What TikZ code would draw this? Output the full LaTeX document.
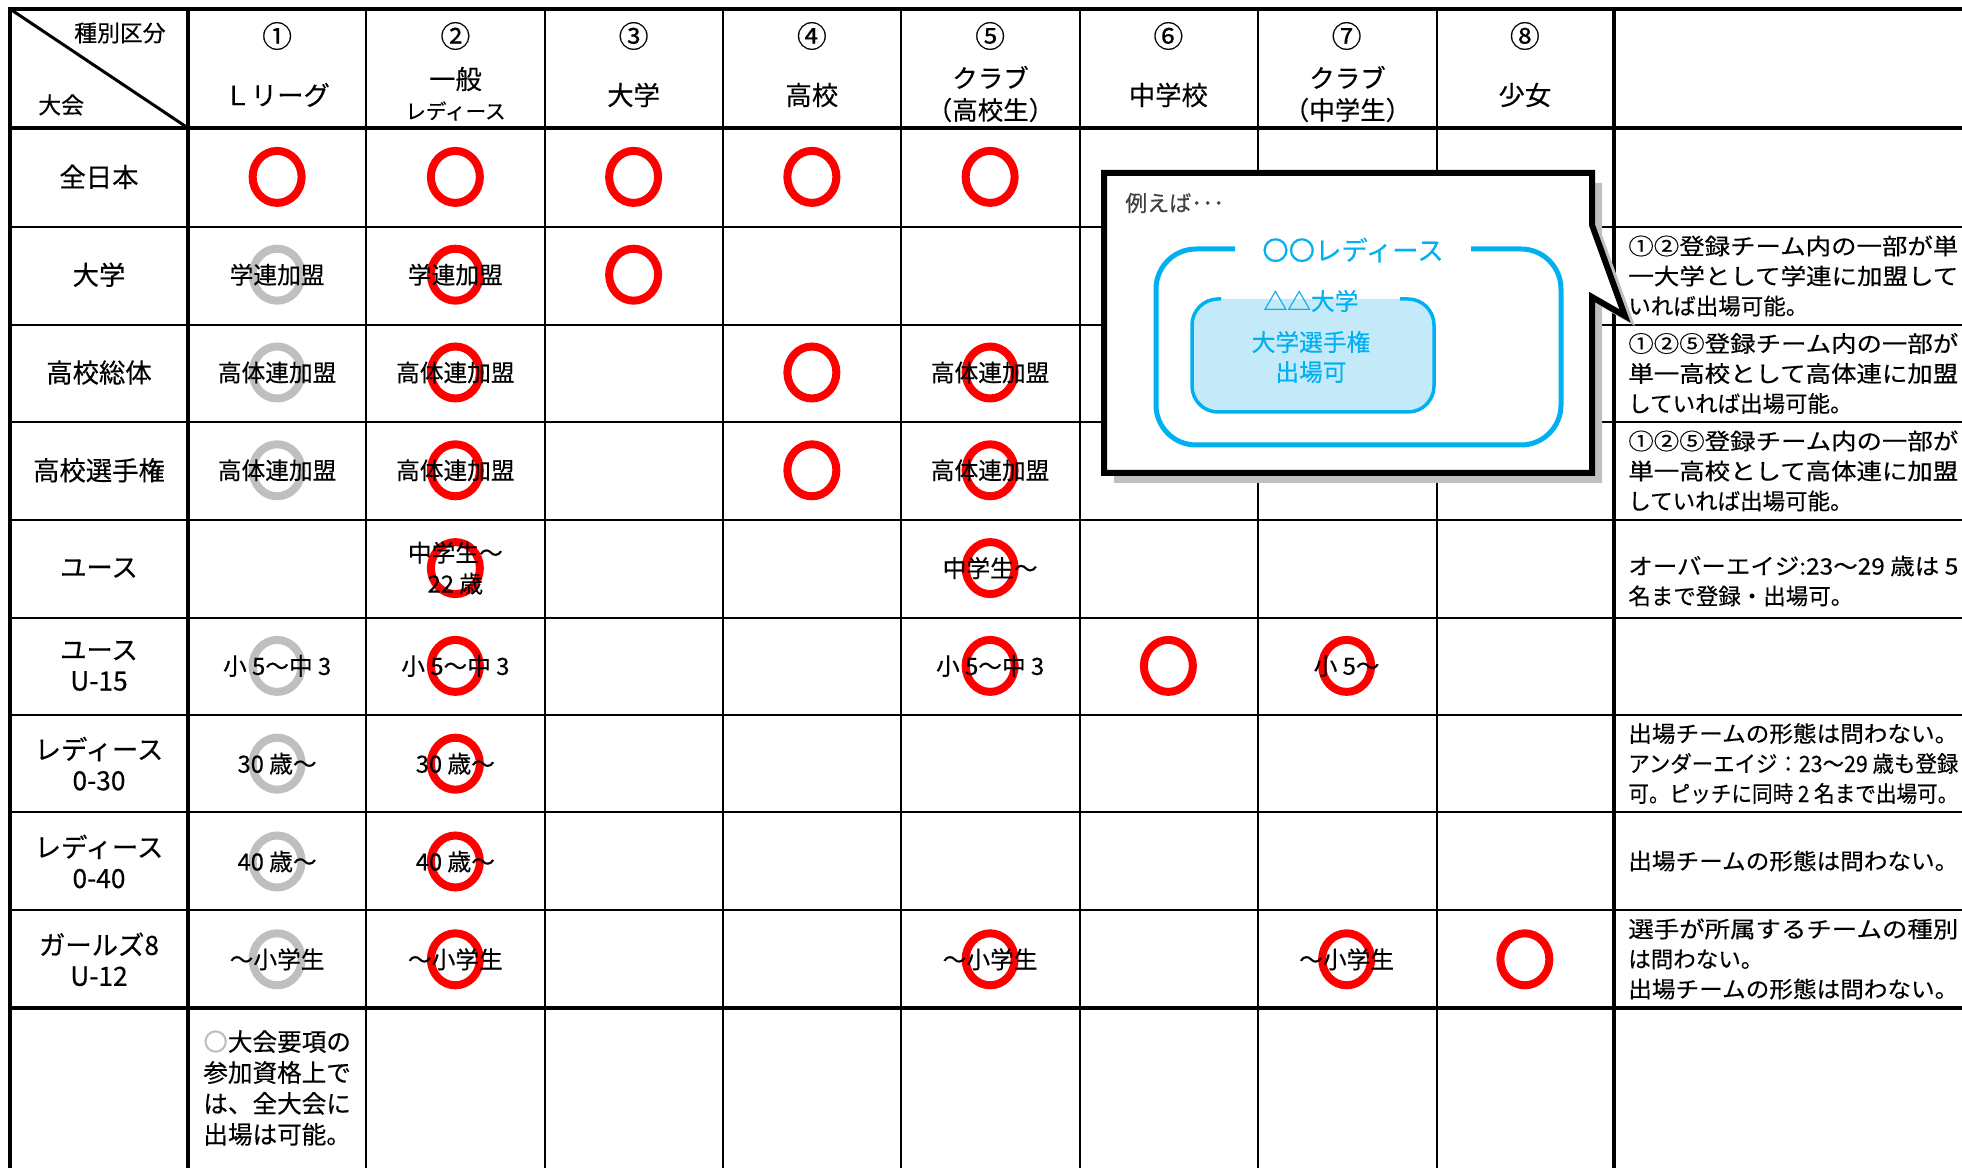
\documentclass[tikz,border=0pt]{standalone}
\usepackage{fontspec}
\setmainfont{Noto Sans CJK JP}[FakeBold=0.35]
\usepackage{graphicx}
\usetikzlibrary{shapes.geometric}

\definecolor{ringred}{HTML}{FF0000}
\definecolor{ringgray}{HTML}{BFBFBF}
\definecolor{frameblue}{HTML}{00B0F0}
\definecolor{paleblue}{HTML}{C4EAF9}
\definecolor{shadowgray}{HTML}{BFBFBF}
\definecolor{hintgray}{HTML}{404040}

\newcommand\fillline[1]{\resizebox{6.6cm}{\height}{#1}}

\tikzset{
  thickrule/.style={line width=0.08cm},
  thinrule/.style={line width=0.05cm},
  redring/.style={ellipse, draw=ringred, line width=0.16cm, minimum width=0.98cm, minimum height=1.04cm, inner sep=0pt},
  grayring/.style={redring, draw=ringgray},
  numhead/.style={font=\fontsize{17}{20}\selectfont, inner sep=0pt},
  head/.style={font=\fontsize{15}{18.2}\selectfont, align=center, inner sep=0pt},
  rowhead/.style={font=\fontsize{15}{17.6}\selectfont, align=center, inner sep=0pt},
  cell/.style={font=\fontsize{13.5}{17.6}\selectfont, align=center, inner sep=0pt},
  note/.style={font=\fontsize{12.8}{17.07}\selectfont, align=left, anchor=west, inner sep=0pt},
  bluetext/.style={text=frameblue, font=\fontsize{13.5}{17}\selectfont, align=center, inner sep=0pt}
}

\begin{document}
\begin{tikzpicture}[x=0.02cm, y=-0.02cm]
\useasboundingbox (0,0) rectangle (1962,1168);

\foreach \x in {366,545,723,901,1080,1258,1437}
  \draw[thinrule] (\x,9) -- (\x,1168);
\foreach \y in {227,325,422,520,618,715,812,910}
  \draw[thinrule] (10,\y) -- (1962,\y);
\foreach \x in {10,188,1614}
  \draw[thickrule] (\x,7) -- (\x,1168);
\foreach \y in {9,128,1008}
  \draw[thickrule] (8,\y) -- (1962,\y);
\draw[line width=0.06cm] (10,9) -- (188,128);

\node[numhead, font=\fontsize{13}{15}\selectfont, anchor=east] (kind) at (166,33) {種別区分};
\node[numhead, font=\fontsize{13}{15}\selectfont, anchor=west] (meet) at (38,105) {大会};

\foreach \c/\num in {1/①,2/②,3/③,4/④,5/⑤,6/⑥,7/⑦,8/⑧}
  \node[numhead] (num-\c) at ({188+178.25*(\c-0.5)},36) {\num};
\foreach \c/\name in {1/Ｌリーグ,3/大学,4/高校,6/中学校,8/少女}
  \node[head] (team-\c) at ({188+178.25*(\c-0.5)},95) {\name};
\node[head] (team-2) at (455.5,79) {一般};
\node[head, font=\fontsize{11.7}{14}\selectfont] (team-2b) at (455.5,111) {レディース};
\node[head, font=\fontsize{14.5}{18.2}\selectfont] (team-5) at (990.5,94) {クラブ\\（高校生）};
\node[head, font=\fontsize{14.5}{18.2}\selectfont] (team-7) at (1347.5,94) {クラブ\\（中学生）};

\foreach \r/\name in {1/全日本,2/大学,3/高校総体,4/高校選手権,5/ユース,6/{ユース\\U-15},7/{レディース\\0-30},8/{レディース\\0-40},9/{ガールズ8\\U-12}}
  \node[rowhead] (meet-\r) at (99,{128+97.8*(\r-0.5)}) {\name};

\foreach \r/\c/\sty in {1/1/redring,1/2/redring,1/3/redring,1/4/redring,1/5/redring,
    2/1/grayring,2/2/redring,2/3/redring,
    3/1/grayring,3/2/redring,3/4/redring,3/5/redring,
    4/1/grayring,4/2/redring,4/4/redring,4/5/redring,
    5/2/redring,5/5/redring,
    6/1/grayring,6/2/redring,6/5/redring,6/6/redring,6/7/redring,
    7/1/grayring,7/2/redring,
    8/1/grayring,8/2/redring,
    9/1/grayring,9/2/redring,9/5/redring,9/7/redring,9/8/redring}
  \node[\sty] (ring-\r-\c) at ({188+178.25*(\c-0.5)},{128+97.8*(\r-0.5)}) {};

\foreach \r/\c/\txt in {2/1/学連加盟,2/2/学連加盟,
    3/1/高体連加盟,3/2/高体連加盟,3/5/高体連加盟,
    4/1/高体連加盟,4/2/高体連加盟,4/5/高体連加盟,
    5/2/{中学生〜\\22 歳},5/5/中学生〜,
    6/1/小 5〜中 3,6/2/小 5〜中 3,6/5/小 5〜中 3,6/7/小 5〜,
    7/1/30 歳〜,7/2/30 歳〜,8/1/40 歳〜,8/2/40 歳〜,
    9/1/〜小学生,9/2/〜小学生,9/5/〜小学生,9/7/〜小学生}
  \node[cell] (cell-\r-\c) at ({188+178.25*(\c-0.5)},{128+97.8*(\r-0.5)}) {\txt};

\node[cell, font=\fontsize{14}{17.6}\selectfont, align=left, anchor=west] (remark) at (203,1088)
  {{\color{ringgray}〇}大会要項の\\参加資格上で\\は、全大会に\\出場は可能。};

\node[note] (note-2) at (1628,276) {\fillline{①②登録チーム内の一部が単}\\\fillline{一大学として学連に加盟して}\\いれば出場可能。};
\node[note] (note-3) at (1628,373.5) {\fillline{①②⑤登録チーム内の一部が}\\\fillline{単一高校として高体連に加盟}\\していれば出場可能。};
\node[note] (note-4) at (1628,471) {\fillline{①②⑤登録チーム内の一部が}\\\fillline{単一高校として高体連に加盟}\\していれば出場可能。};
\node[note] (note-5) at (1628,581) {\fillline{オーバーエイジ:23〜29 歳は 5}\\名まで登録・出場可。};
\node[note] (note-7) at (1628,763.5) {\fillline{出場チームの形態は問わない。}\\\fillline{アンダーエイジ：23〜29 歳も登録}\\\fillline{可。ピッチに同時 2 名まで出場可。}};
\node[note] (note-8) at (1628,861) {\fillline{出場チームの形態は問わない。}};
\node[note] (note-9) at (1628,959) {\fillline{選手が所属するチームの種別}\\は問わない。\\\fillline{出場チームの形態は問わない。}};

\fill[shadowgray, shift={(10,10)}] (1104,173) -- (1592,173) -- (1592,225) -- (1625,316) -- (1592,297) -- (1592,473) -- (1104,473) -- cycle;
\filldraw[fill=white, draw=black, line width=0.12cm] (1104,173) -- (1592,173) -- (1592,225) -- (1625,316) -- (1592,297) -- (1592,473) -- (1104,473) -- cycle;

\node[anchor=west, text=hintgray, font=\fontsize{12.5}{15}\selectfont, inner sep=0pt] (hint) at (1125,203) {例えば･･･};

\draw[frameblue, line width=0.1cm, rounded corners=0.8cm] (1235,249) -- (1156,249) -- (1156,445) -- (1561,445) -- (1561,249) -- (1471,249);
\node[bluetext, font=\fontsize{15}{18}\selectfont] (club) at (1353,250) {〇〇レディース};

\fill[paleblue, rounded corners=0.52cm] (1192,299) rectangle (1434,412);
\draw[frameblue, line width=0.07cm, rounded corners=0.52cm] (1221,299) -- (1192,299) -- (1192,412) -- (1434,412) -- (1434,299) -- (1400,299);
\node[bluetext] (univ) at (1311,301) {△△大学};
\node[bluetext] (permit) at (1311,357) {大学選手権\\出場可};
\end{tikzpicture}
\end{document}
